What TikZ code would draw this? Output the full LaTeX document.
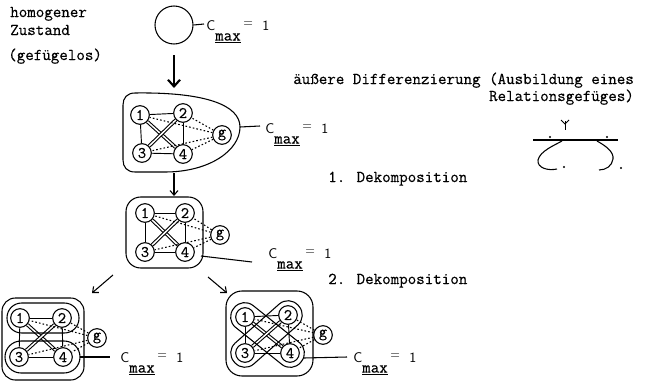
\documentclass[tikz,border=0pt]{standalone}
\usepackage{fontspec}
\usetikzlibrary{arrows.meta,calc}
\pgfdeclarelayer{bg}
\pgfsetlayers{bg,main}

% typewriter face, struck a little heavier
\newfontfamily\typew{Latin Modern Mono}[FakeBold=0.5]

% C_max label: sans C, underlined typewriter subscript, raised small "=", then 1
\newcommand{\cmaxlabel}{{\fontsize{10.5}{12}\selectfont\sffamily C}\raisebox{-7.9pt}{\fontsize{12.4}{14}\selectfont\typew\underline{max}}\kern2pt\raisebox{2.6pt}{\fontsize{9}{10}\selectfont\sffamily =}\kern7pt{\fontsize{10.5}{12}\selectfont\sffamily 1}}

% four numbered elements plus the environment element g
\newcommand{\elements}[6]{%
  \node[vtx] (#1-1) at #2 {1};
  \node[vtx] (#1-2) at #3 {2};
  \node[vtx] (#1-3) at #4 {3};
  \node[vtx] (#1-4) at #5 {4};
  \node[vtx] (#1-g) at #6 {g};
}
% relations among the elements and towards g
\newcommand{\relations}[1]{%
  \begin{pgfonlayer}{bg}
  \draw[rel] (#1-1) -- (#1-2);
  \draw[rel] (#1-3) -- (#1-4);
  \draw[rel] (#1-1) -- (#1-3);
  \draw[rel] (#1-2) -- (#1-4);
  \draw[dbl] (#1-1) -- (#1-4);
  \draw[dbl] (#1-2) -- (#1-3);
  \foreach \k in {1,2,3,4} {\draw[dots] (#1-g) -- (#1-\k);}
  \end{pgfonlayer}
}

\begin{document}
\begin{tikzpicture}[x=0.75pt,y=-0.75pt,
  every node/.style={inner sep=0pt},
  tw/.style={font=\fontsize{12.4}{14}\selectfont\typew},
  vtx/.style={circle, draw, line width=0.8pt, minimum size=14pt, fill=white,
    font=\fontsize{12}{14}\selectfont\typew},
  rel/.style={line width=0.7pt},
  dbl/.style={double, double distance=1.1pt, line width=0.8pt},
  dots/.style={line width=0.8pt, dash pattern=on 1.2pt off 1.6pt},
  hull/.style={line width=0.8pt},
  cmlabel/.style={anchor=base west},
  arr/.style={line width=0.8pt, -{Straight Barb[length=3.5pt,width=6pt]}}]
\useasboundingbox (0,0) rectangle (653,382);

% ---- left captions
\node[tw, anchor=base west] (hom1) at (10,17) {homogener};
\node[tw, anchor=base west] (hom2) at (10,35) {Zustand};
\node[tw, anchor=base west] (hom3) at (8,60) {(gefügelos)};

% ---- homogeneous state
\node[circle, draw, line width=0.8pt, minimum size=28.5pt] (top) at (174,25) {};
\node[cmlabel] (cm0) at (206,30) {\cmaxlabel};
\coordinate (t0) at (204,24);
\draw[hull] (top.east) -- (t0);

% ---- first whole (one hull)
\coordinate (aTop) at (174,88);
\coordinate (aBot) at (174,173);
\coordinate (aR) at (240,127);
\draw[hull] (135,93) .. controls (205,92) and (240,105) .. (aR)
  .. controls (240,150) and (210,172) .. (165,172) -- (135,172)
  .. controls (127,172) and (123,167) .. (123,160) -- (123,105)
  .. controls (123,98) and (127,93) .. (135,93);
\elements{a}{(140,115)}{(183,113)}{(142,153)}{(183,154)}{(222,135)}
\relations{a}
\node[cmlabel] (cm1) at (265,133) {\cmaxlabel};
\coordinate (t1) at (260,126);
\draw[hull] (aR) -- (t1);

\draw[line width=1.6pt, shorten <=8pt, -{Straight Barb[length=5pt,width=9pt]}] (top) -- (aTop);

% ---- after first decomposition
\coordinate (bTop) at (174,196);
\draw[hull, rounded corners=11pt] (126,197) rectangle (203,268);
\elements{b}{(145,213)}{(185,213)}{(145,252)}{(185,252)}{(220,235)}
\relations{b}
\coordinate (bR) at (201,256);
\node[cmlabel] (cm2) at (268,258) {\cmaxlabel};
\coordinate (t2) at (252,262);
\draw[hull] (bR) -- (t2);
\draw[arr] (aBot) -- (bTop);

% ---- second decomposition, left variant
\draw[hull, rounded corners=10pt] (2,298) rectangle (84,380);
\draw[hull, rounded corners=11pt] (7,303) rectangle (79,333);
\draw[hull, rounded corners=12pt] (5,341) rectangle (80,373);
\elements{c}{(20,318)}{(62,318)}{(19,357)}{(63,357)}{(97,338)}
\relations{c}
\coordinate (cR) at (80,357);
\node[cmlabel] (cm3) at (120,362) {\cmaxlabel};
\coordinate (t3) at (110,357);
\draw[hull] (cR) -- (t3);

% ---- second decomposition, right variant
\draw[hull, rounded corners=12pt] (226,291) rectangle (313,376);
\draw[hull, rounded corners=10pt, rotate around={-38.7:(267.5,335)}] (224.5,321) rectangle (310.5,349);
\draw[hull, rounded corners=10pt, rotate around={41.5:(266.5,334)}] (223.8,320) rectangle (309.2,348);
\elements{d}{(245,317)}{(288,315)}{(245,353)}{(290,353)}{(323,335)}
\relations{d}
\coordinate (dR) at (304,358);
\node[cmlabel] (cm4) at (353,362) {\cmaxlabel};
\coordinate (t4) at (347,357);
\draw[hull] (dR) -- (t4);

% ---- decomposition arrows
\coordinate (bSW) at (113,275);
\coordinate (cNE) at (92,293);
\coordinate (bSE) at (208,277);
\coordinate (dNW) at (227,293);
\draw[arr] (bSW) -- (cNE);
\draw[arr] (bSE) -- (dNW);

% ---- right-hand captions
\node[tw, anchor=base west] (dif1) at (293,84) {äußere Differenzierung (Ausbildung eines};
\node[tw, anchor=base east] (dif2) at ($(dif1.base east)+(0,17)$) {Relationsgefüges)};
\node[tw, anchor=base west] (dek1) at (328,182) {1. Dekomposition};
\node[tw, anchor=base west] (dek2) at (328,284) {2. Dekomposition};

% ---- sketch of a relational structure
\draw[line width=0.7pt] (561,120) -- (565,124) -- (569,120);
\draw[line width=0.7pt] (565,121) -- (565,130);
\draw[hull] (533,140) -- (618,140);
\fill (550,137) circle (0.8pt);
\fill (607,137) circle (0.8pt);
\draw[hull] (562,141) .. controls (555,145) and (540,151) .. (538,160)
  .. controls (537,168) and (548,171) .. (557,169);
\draw[hull] (597,141) .. controls (606,146) and (614,152) .. (613,159)
  .. controls (612,166) and (606,170) .. (599,170);
\fill (564,167) circle (0.8pt);
\fill (621,168) circle (0.8pt);
\end{tikzpicture}
\end{document}
